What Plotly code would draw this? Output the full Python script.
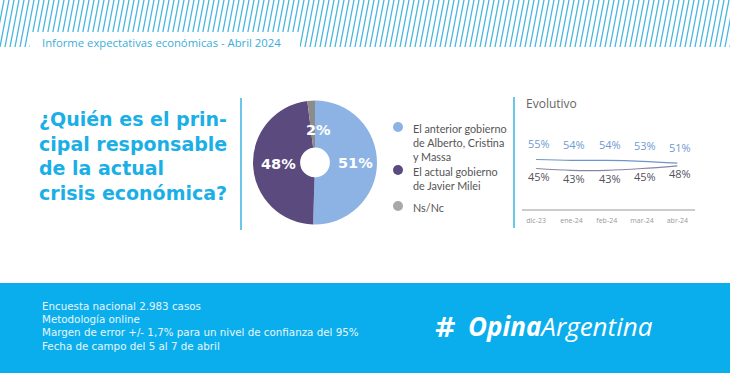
import plotly.graph_objects as go

W, H = 730, 373

# ---- data ----
pie_labels = ["El anterior gobierno de Alberto, Cristina y Massa",
              "El actual gobierno de Javier Milei", "Ns/Nc"]
pie_values = [51, 48, 2]
legend_texts = ["El anterior gobierno<br>de Alberto, Cristina<br>y Massa",
                "El actual gobierno<br>de Javier Milei", "Ns/Nc"]
months = ["dic-23", "ene-24", "feb-24", "mar-24", "abr-24"]
anterior = [55, 54, 54, 53, 51]
actual = [45, 43, 43, 45, 48]

title_text = "¿Quién es el prin-<br>cipal responsable<br>de la actual<br>crisis económica?"
header_text = "Informe expectativas económicas - Abril 2024"
footer_lines = ["Encuesta nacional 2.983 casos", "Metodología online",
                "Margen de error +/- 1,7% para un nivel de confianza del 95%",
                "Fecha de campo del 5 al 7 de abril"]

C_BLUE = "#8DB3E4"
C_PURPLE = "#5B4A7D"
C_GRAY = "#8C8C8C"
C_CYAN = "#1AAFE6"
C_BAND = "#0BAEEC"


def X(px):
    return px / W


def Y(py):
    return 1 - py / H


fig = go.Figure()

# pie
pcx, pcy, pr = 315, 162.5, 62
fig.add_trace(go.Pie(
    labels=pie_labels, values=pie_values, sort=False, direction="clockwise",
    rotation=0, hole=0.24, textinfo="none", showlegend=False,
    marker=dict(colors=[C_BLUE, C_PURPLE, C_GRAY], line=dict(width=0)),
    domain=dict(x=[X(pcx - pr), X(pcx + pr)], y=[Y(pcy + pr), Y(pcy - pr)]),
    hoverinfo="label+percent"))

# evolutivo lines
fig.add_trace(go.Scatter(x=months, y=anterior, mode="lines",
                         line=dict(color="#6E95C9", width=1.2, shape="spline"),
                         showlegend=False))
fig.add_trace(go.Scatter(x=months, y=actual, mode="lines",
                         line=dict(color="#8A85A0", width=1.2, shape="spline"),
                         showlegend=False))

annotations = []
for m, v in zip(months, anterior):
    annotations.append(dict(x=m, y=v, xref="x", yref="y", text=f"{v}%",
                            showarrow=False, yshift=16, xshift=3,
                            font=dict(family="Open Sans", size=11, color="#6E9AD2")))
for m, v in zip(months, actual):
    annotations.append(dict(x=m, y=v, xref="x", yref="y", text=f"{v}%",
                            showarrow=False, yshift=-8, xshift=3,
                            font=dict(family="Open Sans", size=11, color="#55525E")))

# pie labels
pie_label_pos = [(355, 163), (278, 164), (318, 120)]
for v, (px, py) in zip(pie_values, pie_label_pos):
    annotations.append(dict(x=X(px), y=Y(py), xref="paper", yref="paper",
                            text=f"<b>{v}%</b>", showarrow=False,
                            font=dict(family="DejaVu Sans", size=14.5, color="white")))

# title
annotations.append(dict(x=X(37), y=Y(106), xref="paper", yref="paper",
                        xanchor="left", yanchor="top", align="left",
                        text=f"<b>{title_text}</b>", showarrow=False,
                        font=dict(family="DejaVu Sans", size=19, color=C_CYAN)))
# header
annotations.append(dict(x=X(40), y=Y(43), xref="paper", yref="paper",
                        xanchor="left", yanchor="middle", text=header_text,
                        showarrow=False,
                        font=dict(family="Open Sans", size=11.3, color="#3AAEDA")))
# evolutivo title
annotations.append(dict(x=X(524), y=Y(104), xref="paper", yref="paper",
                        xanchor="left", yanchor="middle", text="Evolutivo",
                        showarrow=False,
                        font=dict(family="Open Sans", size=12, color="#666666")))
# legend
leg_y = [127, 170, 206]
leg_cols = [C_BLUE, C_PURPLE, "#A8A8A8"]
shapes = []
for t, ly, c in zip(legend_texts, leg_y, leg_cols):
    annotations.append(dict(x=X(411), y=Y(ly - 7), xref="paper", yref="paper",
                            xanchor="left", yanchor="top", align="left", text=t,
                            showarrow=False,
                            font=dict(family="Lato", size=10.8, color="#555555")))
    shapes.append(dict(type="circle", xref="paper", yref="paper",
                       x0=X(393), x1=X(403), y0=Y(ly - 5), y1=Y(ly + 5),
                       fillcolor=c, line=dict(width=0)))

# footer
for i, t in enumerate(footer_lines):
    annotations.append(dict(x=X(40), y=Y(306 + i * 13.2), xref="paper", yref="paper",
                            xanchor="left", yanchor="middle", text=t, showarrow=False,
                            font=dict(family="DejaVu Sans", size=10.3, color="#E6F6FD")))
# logo
annotations.append(dict(x=X(432), y=Y(327), xref="paper", yref="paper",
                        xanchor="left", yanchor="middle", text="<b>#</b>",
                        showarrow=False,
                        font=dict(family="DejaVu Sans", size=27, color="white")))
annotations.append(dict(x=X(466), y=Y(326), xref="paper", yref="paper",
                        xanchor="left", yanchor="middle",
                        text="<b><i>Opina</i></b><i>Argentina</i>", showarrow=False,
                        font=dict(family="Open Sans", size=26, color="white")))

# header stripes
path = ""
x = -20
while x < W + 10:
    path += f"M{X(x)},{Y(47)} L{X(x + 9)},{Y(0)} "
    x += 5
shapes.insert(0, dict(type="path", xref="paper", yref="paper", path=path,
                      line=dict(color="#45B6DF", width=1.3), layer="below"))
shapes.insert(1, dict(type="rect", xref="paper", yref="paper",
                      x0=X(30), x1=X(300), y0=Y(60), y1=Y(32),
                      fillcolor="white", line=dict(width=0), layer="below"))
# bottom band
shapes.append(dict(type="rect", xref="paper", yref="paper",
                   x0=0, x1=1, y0=0, y1=Y(283), fillcolor=C_BAND,
                   line=dict(width=0), layer="below"))
# vertical divider lines
shapes.append(dict(type="line", xref="paper", yref="paper",
                   x0=X(241), x1=X(241), y0=Y(98), y1=Y(230),
                   line=dict(color="#3AB4E2", width=1.5)))
shapes.append(dict(type="line", xref="paper", yref="paper",
                   x0=X(514), x1=X(514), y0=Y(97), y1=Y(228),
                   line=dict(color="#3AB4E2", width=1.5)))

fig.update_layout(
    width=W, height=H, margin=dict(l=0, r=0, t=0, b=0),
    paper_bgcolor="white", plot_bgcolor="rgba(0,0,0,0)",
    xaxis=dict(domain=[X(522), X(695)], range=[-0.4, 4.5], showgrid=False,
               zeroline=False, showline=True, linecolor="#CCCCCC", linewidth=1.5,
               ticks="", ticklabelstandoff=4,
               tickfont=dict(family="Open Sans", size=7, color="#999999"),
               fixedrange=True),
    yaxis=dict(domain=[Y(209), Y(119)], range=[0, 100], visible=False,
               fixedrange=True),
    shapes=shapes, annotations=annotations, showlegend=False,
)

fig.write_html("out.html", config={"displayModeBar": False},
               post_script="document.body.style.margin='0';document.body.style.overflow='hidden';")
